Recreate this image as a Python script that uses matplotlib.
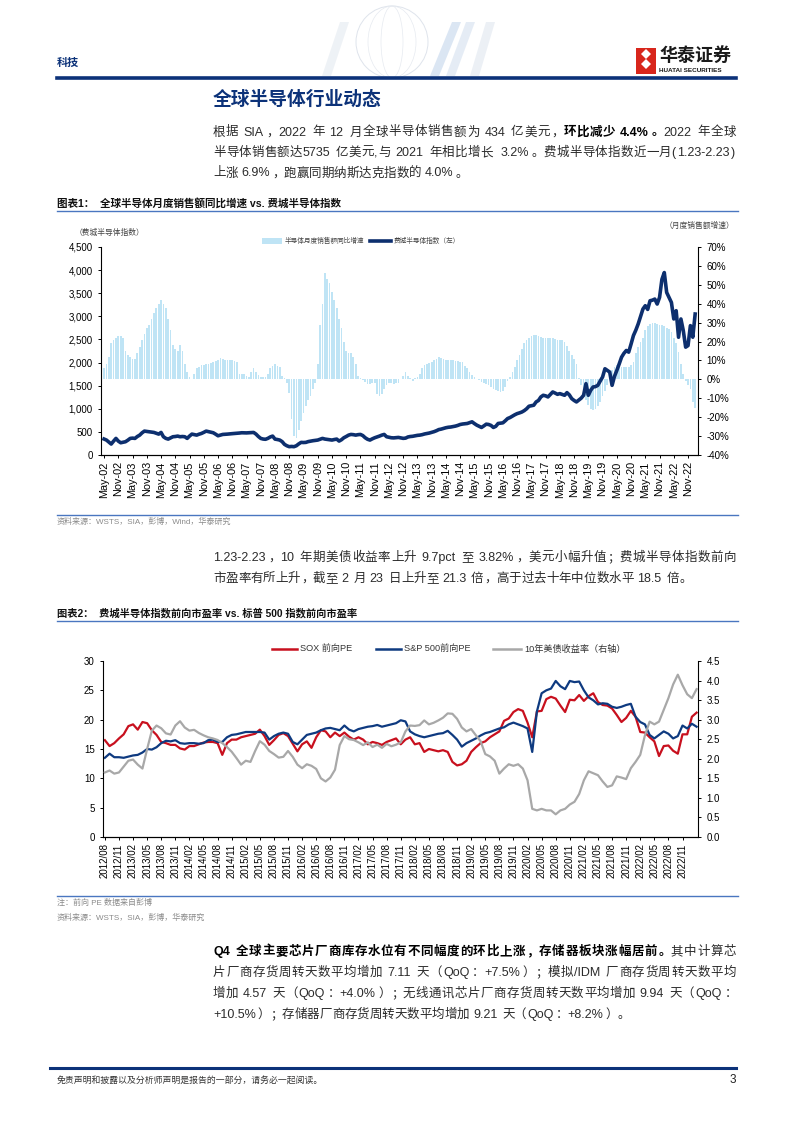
import re
import numpy as np
import pandas as pd
import matplotlib.pyplot as plt
import matplotlib.ticker as mtick
from matplotlib.patches import Rectangle, Ellipse, Polygon
from matplotlib.lines import Line2D

plt.rcParams['font.family'] = ['Liberation Sans', 'Noto Sans CJK SC']
plt.rcParams['axes.unicode_minus'] = False

W, H = 794, 1123

# chart 1: monthly, May-02 .. Feb-23
month_start = '2002-05'
chip_sales_yoy = [
    6, 8, 12, 19, 21, 22, 23, 23,                                   # 2002 May-Dec
    22, 15, 13, 12, 11, 11, 14, 17, 21, 24, 27, 29,                 # 2003
    32, 35, 38, 40, 42, 40, 38, 32, 26, 18, 16, 15,                 # 2004
    18, 15, 8, 4, 1.5, 0.2, 3, 5.8, 6.5, 7.5, 7.8, 8,               # 2005
    8.2, 8.4, 9, 9.5, 10, 11.5, 11, 10, 10, 10, 10, 9.5,            # 2006
    9, 3, 3, 3, 2, 1.4, 4, 5.8, 4, 2.5, 1.4, 1.2,                   # 2007
    1.4, 3, 5.8, 7, 8, 7, 6.6, 2, 0.5, -2, -7, -21,                 # 2008
    -30, -31, -27, -22, -18, -14, -11, -9, -5, -2, 8, 29,           # 2009
    40, 56, 53, 51, 46, 42, 38, 32, 27, 20, 15, 14,                 # 2010
    14, 12, 8, 2, 0.5, -0.5, -1.5, -2.5, -2.5, -2, -2, -8,          # 2011
    -9, -8, -5, -3, -2, -2, -2.5, -2, -2, 0, 2, 4,                  # 2012
    2, 0.5, -1, 0.5, 1.5, 3, 6, 7.5, 8, 8.4, 9, 10,                 # 2013
    11, 12, 11.5, 11, 10.5, 10, 10, 10, 9.8, 9.5, 9.2, 9,           # 2014
    7, 6, 4, 2.5, 1, 0, -0.5, -1.5, -2, -2.5, -3, -4,               # 2015
    -5, -5.8, -6.2, -6.5, -6, -4, -1, 1.5, 4, 6.6, 10, 13,          # 2016
    16, 19, 21, 22, 23, 23.6, 23.6, 23, 22.5, 22, 22, 22,           # 2017
    22, 22, 21.5, 21, 21, 20.7, 20, 17.5, 15, 13, 11, 8,            # 2018
    0.5, -3, -7, -11, -13.5, -15.5, -16, -15.5, -14, -12, -9, -6,   # 2019
    -3, 0, 5, 6.5, 7.5, 7, 6.6, 6.5, 6.6, 6.6, 7.5, 9,              # 2020
    13.7, 17, 20, 22, 26, 28, 29.5, 30, 29.8, 29.4, 29, 28.5,       # 2021
    28, 27, 26.5, 25, 22, 19, 14.5, 8, 3, -1, -3, -5,               # 2022
    -12, -15,                                                       # 2023 Jan-Feb
]
sox_index = [
    345, 323, 280, 237, 300, 359, 300, 265,
    275, 287, 320, 359, 365, 359, 400, 430, 480, 517, 510, 502,
    495, 488, 470, 452, 488, 395, 360, 344, 370, 395, 400, 409,
    395, 400, 395, 359, 410, 452, 440, 430, 450, 466, 490, 517,
    505, 495, 481, 450, 416, 430, 445, 448, 452, 458, 462, 466,
    470, 475, 481, 480, 478, 481, 485, 488, 452, 400, 359, 345,
    340, 360, 390, 409, 344, 335, 323, 290, 230, 200, 180, 185,
    180, 200, 240, 273, 270, 273, 290, 300, 309, 315, 323, 340,
    359, 345, 337, 330, 323, 335, 344, 301, 330, 373, 400, 430,
    445, 440, 430, 440, 445, 420, 373, 340, 323, 350, 373, 390,
    409, 430, 445, 395, 385, 373, 370, 375, 380, 370, 360, 365,
    390, 400, 405, 415, 425, 430, 440, 455, 465, 475, 490, 505,
    525, 550, 560, 575, 590, 600, 605, 615, 625, 640, 660, 670,
    675, 682, 700, 718, 680, 646, 620, 596, 630, 667, 660, 640,
    596, 620, 682, 690, 696, 740, 789, 810, 840, 870, 895, 911,
    930, 960, 1000, 1055, 1065, 1077, 1148, 1180, 1256, 1292, 1280, 1256,
    1310, 1364, 1340, 1313, 1328, 1310, 1292, 1349, 1300, 1220, 1180, 1148,
    1190, 1230, 1292, 1543, 1292, 1400, 1471, 1480, 1507, 1600, 1687, 1866,
    1830, 1794, 1507, 1700, 1830, 1970, 2117, 2200, 2261, 2225, 2400, 2584,
    2700, 2835, 3000, 3158, 3230, 3150, 3337, 3350, 3373, 3266, 3409, 3800,
    3947, 3517, 3409, 3300, 2943, 3122, 2548, 2943, 2691, 2333, 2368, 2799,
    2548, 3050,
]

# chart 2: monthly, Aug-12 .. Feb-23
pe_start = '2012-08'
sox_fwd_pe = [
    16.5, 15.5, 16.0, 16.8, 17.5,
    18.9, 19.2, 18.3, 19.6, 19.4, 18.2, 17.4, 16.2, 16.0, 15.7, 15.7, 15.1,
    14.9, 15.5, 15.5, 15.8, 16.1, 16.2, 16.2, 16.0, 14.0, 16.0, 16.6, 16.6,
    17.0, 17.2, 17.4, 17.6, 18.3, 17.2, 15.7, 16.5, 17.4, 17.7, 17.2, 15.9,
    14.6, 15.8, 16.3, 15.2, 17.0, 18.2, 18.0, 17.0, 17.8, 17.2, 17.8, 17.1,
    16.6, 17.0, 16.6, 15.8, 16.2, 16.0, 15.7, 16.2, 16.5, 16.8, 15.8, 16.6,
    17.0, 15.8, 16.0, 14.5, 15.0, 14.8, 14.6, 14.8, 14.5, 12.8, 12.2, 12.4,
    13.0, 14.5, 15.3, 16.0, 16.3, 17.0, 17.5, 18.0, 19.8, 20.2, 21.3, 21.8,
    21.5, 19.5, 17.0, 21.4, 21.5, 23.5, 23.9, 23.6, 22.4, 21.3, 23.4, 23.3,
    24.2, 23.2, 24.0, 24.5, 23.0, 22.5, 22.4, 21.9, 20.8, 19.6, 20.3, 21.5,
    20.5, 17.9, 17.8, 17.0, 16.3, 13.8, 15.5, 15.6, 14.7, 14.2, 17.5, 17.5,
    20.5, 21.2,
]
spx_fwd_pe = [
    13.5, 14.2, 13.6, 13.6, 13.5,
    13.7, 13.9, 14.0, 14.4, 15.0, 14.9, 15.3, 16.0, 16.4, 16.3, 16.5, 16.0,
    15.9, 16.0, 16.0, 15.9, 16.0, 16.5, 16.6, 16.2, 16.2, 17.0, 17.4, 17.5,
    17.7, 17.9, 17.9, 17.9, 17.9, 17.8, 16.6, 17.2, 17.6, 17.8, 17.6, 16.2,
    15.8, 16.6, 17.4, 17.6, 17.8, 18.2, 18.5, 18.6, 18.4, 18.2, 19.0, 18.3,
    18.0, 18.4, 18.6, 18.8, 18.9, 19.1, 18.8, 19.0, 19.2, 19.4, 19.9, 19.7,
    18.0, 17.5, 17.2, 17.0, 17.2, 17.4, 17.6, 17.7, 18.1, 17.4, 16.6, 15.4,
    16.0, 16.4, 16.8, 17.3, 17.7, 17.9, 18.2, 18.5, 18.7, 19.2, 19.5, 19.2,
    18.9, 18.5, 14.5, 21.4, 24.5, 25.0, 25.3, 26.6, 25.7, 25.2, 26.6, 26.4,
    26.5, 25.0, 23.8, 23.3, 22.6, 22.8, 22.7, 22.2, 22.0, 22.2, 22.5, 22.7,
    20.5, 19.6, 19.2, 17.4, 16.8, 17.4, 18.0, 17.6, 16.8, 17.2, 19.0, 18.5,
    19.3, 18.8,
]
ust_10y = [
    1.65, 1.70, 1.62, 1.65, 1.80,
    1.95, 1.98, 1.85, 1.75, 2.25, 2.72, 2.85, 2.78, 2.65, 2.62, 2.85, 2.96,
    2.80, 2.72, 2.74, 2.66, 2.60, 2.55, 2.52, 2.48, 2.40, 2.30, 2.18, 2.02,
    1.85, 1.95, 1.92, 2.20, 2.45, 2.36, 2.20, 2.12, 2.03, 2.05, 2.20, 2.05,
    1.85, 1.76, 1.86, 1.82, 1.74, 1.50, 1.42, 1.52, 1.72, 2.35, 2.58, 2.50,
    2.48, 2.42, 2.35, 2.42, 2.30, 2.36, 2.28, 2.38, 2.32, 2.36, 2.42, 2.70,
    2.85, 2.84, 2.86, 2.98, 2.88, 2.92, 2.98, 3.05, 3.16, 3.15, 3.02, 2.80,
    2.70, 2.76, 2.60, 2.45, 2.12, 2.06, 1.95, 1.62, 1.75, 1.86, 1.82, 1.86,
    1.75, 1.45, 0.72, 0.68, 0.72, 0.68, 0.68, 0.58, 0.68, 0.72, 0.83, 0.90,
    1.10, 1.45, 1.68, 1.63, 1.58, 1.42, 1.28, 1.32, 1.55, 1.52, 1.48, 1.76,
    1.92, 2.10, 2.60, 2.95, 2.88, 2.95, 3.25, 3.55, 3.90, 4.15, 3.88, 3.65,
    3.55, 3.78,
]

NAVY = '#0c3279'
LINE_BLUE = '#4a76c0'
TXT = '#2b2b2b'
GREY_TXT = '#8a8a8a'

fig = plt.figure(figsize=(W / 100, H / 100), dpi=100)
renderer = fig.canvas.get_renderer()


def fx(x):
    return x / W


def fy(y):
    return 1 - y / H


def put(x, y, s, size, color=TXT, weight='normal', ha='left', va='center', **kw):
    return fig.text(fx(x), fy(y), s, fontsize=size, color=color, fontweight=weight,
                    ha=ha, va=va, **kw)


def hline(x0, x1, y, color, lw):
    fig.add_artist(Line2D([fx(x0), fx(x1)], [fy(y), fy(y)], color=color, lw=lw,
                          transform=fig.transFigure))


LEFT_PUNCT = set('，。：；、）')
RIGHT_PUNCT = set('（')


def text_line(x0, y, runs, size, color=TXT, x1=None):
    # lay out tokens, optionally justified between x0 and x1 (y is the baseline)
    em = size * 100 / 72
    items = []
    for s, bold in runs:
        for tok in re.findall(r'[A-Za-z0-9.,%+\-/&]+|\s|.', s):
            items.append((tok, bold))
    widths, arts = [], []
    for tok, bold in items:
        if tok.isspace():
            widths.append(em * 0.3)
            arts.append(None)
            continue
        t = fig.text(0, 0, tok, fontsize=size, color='#000000' if bold else color,
                     fontweight='bold' if bold else 'normal', va='baseline')
        if len(tok) == 1 and ord(tok) >= 0x2E80:
            widths.append(em)
        else:
            widths.append(t.get_window_extent(renderer).width + em * 0.08)
        arts.append(t)
    gap = 0
    if x1 is not None and len(items) > 1:
        gap = (x1 - x0 - sum(widths)) / (len(items) - 1)
    x = x0
    for (tok, bold), w, t in zip(items, widths, arts):
        if t is not None:
            if tok in LEFT_PUNCT:
                t.set_x(fx(x + em * 0.08))
            elif tok in RIGHT_PUNCT:
                t.set_x(fx(x + w - em * 0.08))
                t.set_ha('right')
            elif len(tok) == 1 and ord(tok) >= 0x2E80:
                t.set_x(fx(x + w / 2))
                t.set_ha('center')
            else:
                t.set_x(fx(x))
            t.set_y(fy(y))
        x += w + gap


# ---------------- page header ----------------
glb = Ellipse((fx(392), fy(42)), 72 / W, 72 / H, transform=fig.transFigure,
              fill=False, ec='#dfe4ec', lw=0.7)
fig.add_artist(glb)
for wdt in (48, 22):
    fig.add_artist(Ellipse((fx(392), fy(42)), wdt / W, 72 / H, transform=fig.transFigure,
                           fill=False, ec='#e6eaf0', lw=0.5))
for (xa, xb, col) in [(430, 452, '#cddcef'), (446, 466, '#dbe5f2'), (470, 486, '#e4eaf2'),
                      (322, 340, '#e8edf3')]:
    fig.add_artist(Polygon([(fx(xa), fy(76)), (fx(xa + 9), fy(76)), (fx(xb + 9), fy(22)),
                            (fx(xb), fy(22))], closed=True, transform=fig.transFigure,
                           fc=col, ec='none', alpha=0.7))
put(57, 63, '科技', 8, color=NAVY, weight='bold')
fig.add_artist(Rectangle((fx(636), fy(74)), 20 / W, 26 / H, transform=fig.transFigure,
                         fc='#d8261c', ec='none'))
for yy in (54, 64):
    fig.add_artist(Polygon([(fx(646), fy(yy - 5)), (fx(651), fy(yy)), (fx(646), fy(yy + 5)),
                            (fx(641), fy(yy))], closed=True, transform=fig.transFigure,
                           fc='white', ec='none'))
put(659, 56, '华泰证券', 13, color='#1a1a1a', weight='bold')
put(659, 70, 'HUATAI SECURITIES', 4.6, color='#1a1a1a', weight='bold')
hline(57, 736, 77.5, NAVY, 2.6)

# ---------------- section 1 text ----------------
put(213, 100, '全球半导体行业动态', 13.5, color=NAVY, weight='bold')
PS = 9
text_line(213, 135.5, [('根据 SIA，2022 年 12 月全球半导体销售额为 434 亿美元，', False),
                       ('环比减少 4.4%。', True), ('2022 年全球', False)], PS, x1=736)
text_line(213, 156, [('半导体销售额达5735 亿美元,与 2021 年相比增长  3.2%。费城半导体指数近一月(1.23-2.23)',
                      False)], PS, x1=736)
text_line(213, 176.5, [('上涨 6.9%，跑赢同期纳斯达克指数的 4.0%。', False)], PS)

# ---------------- chart 1 ----------------
put(57, 203, '图表1：  全球半导体月度销售额同比增速 vs. 费城半导体指数', 7.6, color='#111111',
    weight='bold')
hline(57, 738, 210.5, LINE_BLUE, 1.0)

ax1 = fig.add_axes([fx(101), fy(455), 597 / W, 208 / H])
ax1r = ax1.twinx()
x1 = np.arange(len(sox_index))
ax1r.bar(x1, chip_sales_yoy, width=0.72, color='#bfe4f5', linewidth=0)
ax1.plot(x1, sox_index, color='#0d2f6e', lw=2.6, solid_joinstyle='round')
ax1.set_zorder(ax1r.get_zorder() + 1)
ax1.patch.set_visible(False)
ax1.set_xlim(-1.3, 250.2)
ax1.set_ylim(0, 4500)
ax1r.set_ylim(-40, 70)
ax1.set_yticks(range(0, 4501, 500))
ax1.yaxis.set_major_formatter(mtick.FuncFormatter(lambda v, p: f'{v:,.0f}'))
ax1r.set_yticks(range(-40, 71, 10))
ax1r.yaxis.set_major_formatter(mtick.FuncFormatter(lambda v, p: f'{v:.0f}%'))
months = pd.date_range(month_start, periods=len(sox_index), freq='MS')
tick_idx = list(range(0, 247, 6))
ax1.set_xticks(tick_idx)
ax1.set_xticklabels([months[i].strftime('%b-%y') for i in tick_idx], rotation=90)
for a in (ax1, ax1r):
    a.spines['top'].set_visible(False)
    for sp in a.spines.values():
        sp.set_color('#000000')
        sp.set_linewidth(0.8)
    a.tick_params(direction='out', length=2.5, width=0.7, labelsize=7, colors='#000000')
ax1.tick_params(axis='x', labelsize=7.8, pad=2)
ax1.spines['right'].set_visible(False)
ax1r.spines['left'].set_visible(False)

put(110, 233, '（费城半导体指数）', 5.6, color='#444444', ha='center')
put(700, 226, '（月度销售额增速）', 5.6, color='#444444', ha='center')
fig.add_artist(Rectangle((fx(262), fy(244)), 20 / W, 6 / H, transform=fig.transFigure,
                         fc='#bfe4f5', ec='none'))
put(285, 241, '半导体月度销售额同比增速', 4.8, color='#444444')
fig.add_artist(Line2D([fx(370), fx(391)], [fy(241), fy(241)], color='#0d2f6e', lw=2.6,
                      transform=fig.transFigure))
put(394, 241, '费城半导体指数（左）', 4.8, color='#444444')

hline(57, 738, 514.5, LINE_BLUE, 1.0)
put(57, 522, '资料来源：WSTS，SIA，彭博，Wind，华泰研究', 5.8, color=GREY_TXT)

# ---------------- section 2 text ----------------
text_line(213, 561, [('1.23-2.23，10 年期美债收益率上升 9.7pct 至 3.82%，美元小幅升值；费城半导体指数前向',
                      False)], PS, x1=736)
text_line(213, 582, [('市盈率有所上升，截至 2 月 23 日上升至 21.3 倍，高于过去十年中位数水平 18.5 倍。',
                      False)], PS)

# ---------------- chart 2 ----------------
put(57, 613, '图表2：  费城半导体指数前向市盈率 vs. 标普 500 指数前向市盈率', 7.4, color='#111111',
    weight='bold')
hline(57, 738, 620.5, LINE_BLUE, 1.0)

ax2 = fig.add_axes([fx(103), fy(837), 595 / W, 176 / H])
ax2r = ax2.twinx()
x2 = np.arange(len(sox_fwd_pe))
ax2.plot(x2, sox_fwd_pe, color='#c8101e', lw=1.6)
ax2.plot(x2, spx_fwd_pe, color='#0e3a80', lw=1.6)
ax2r.plot(x2, ust_10y, color='#a8a8a8', lw=1.6)
ax2.set_xlim(-0.4, 126.3)
ax2.set_ylim(0, 30)
ax2r.set_ylim(0, 4.5)
ax2.set_yticks(range(0, 31, 5))
ax2r.set_yticks(np.arange(0, 4.51, 0.5))
ax2r.yaxis.set_major_formatter(mtick.FormatStrFormatter('%.1f'))
qdates = pd.date_range(pe_start, periods=len(sox_fwd_pe), freq='MS')
q_idx = list(range(0, 124, 3))
ax2.set_xticks(q_idx)
ax2.set_xticklabels([qdates[i].strftime('%Y/%m') for i in q_idx], rotation=90)
for a in (ax2, ax2r):
    a.spines['top'].set_visible(False)
    for sp in a.spines.values():
        sp.set_color('#000000')
        sp.set_linewidth(0.8)
    a.tick_params(direction='out', length=2.5, width=0.7, labelsize=7, colors='#000000')
ax2.tick_params(axis='x', labelsize=7, pad=2)
ax2.spines['right'].set_visible(False)
ax2r.spines['left'].set_visible(False)

for (xa, xb, col, lab, xt) in [(272, 297, '#c8101e', 'SOX 前向PE', 300),
                              (376, 401, '#0e3a80', 'S&P 500前向PE', 404),
                              (493, 521, '#a8a8a8', '10年美债收益率（右轴）', 524)]:
    fig.add_artist(Line2D([fx(xa), fx(xb)], [fy(649), fy(649)], color=col, lw=1.8,
                          transform=fig.transFigure))
    put(xt, 649, lab, 6.6, color='#333333')

hline(57, 738, 896, LINE_BLUE, 1.0)
put(57, 903, '注：前向 PE 数据来自彭博', 5.8, color=GREY_TXT)
put(57, 918, '资料来源：WSTS，SIA，彭博，华泰研究', 5.8, color=GREY_TXT)

# ---------------- section 3 text ----------------
text_line(213, 955, [('Q4 全球主要芯片厂商库存水位有不同幅度的环比上涨，存储器板块涨幅居前。', True),
                     ('其中计算芯', False)], PS, x1=736)
text_line(213, 976, [('片厂商存货周转天数平均增加 7.11 天（QoQ：+7.5%）；模拟/IDM 厂商存货周转天数平均',
                      False)], PS, x1=736)
text_line(213, 997, [('增加 4.57 天（QoQ：+4.0%）；无线通讯芯片厂商存货周转天数平均增加 9.94 天（QoQ：',
                      False)], PS, x1=736)
text_line(213, 1018, [('+10.5%）；存储器厂商存货周转天数平均增加 9.21 天（QoQ：+8.2%）。', False)], PS)

# ---------------- footer ----------------
hline(50, 736, 1067.5, NAVY, 2.2)
put(57, 1080, '免责声明和披露以及分析师声明是报告的一部分，请务必一起阅读。', 6.4, color='#333333',
    style='italic')
put(736, 1080, '3', 8.5, color='#222222', ha='right')

fig.savefig('out.png', dpi=100)
